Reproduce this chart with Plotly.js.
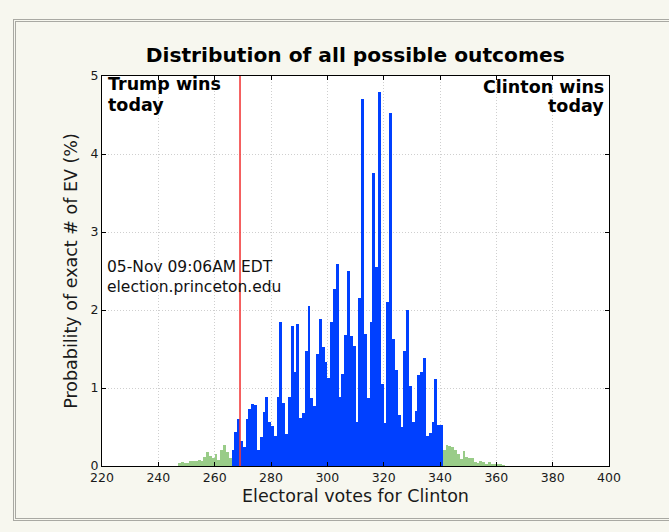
<!DOCTYPE html>
<html>
<head>
<meta charset="utf-8">
<script src="https://cdn.plot.ly/plotly-3.0.1.min.js"></script>
<style>
  html, body { margin:0; padding:0; background:#f7f7ef; width:669px; height:532px; overflow:hidden; }
  #frame { position:absolute; left:13px; top:19px; width:680px; height:496px; border:3px double #a9a9a3; background:#f7f7ef; }
  #chart { position:absolute; left:0; top:0; width:669px; height:532px; }
</style>
</head>
<body>
<div id="frame"></div>
<div id="chart"></div>
<script>
// Electoral votes (bar k spans k..k+1); probabilities in %
const leftTailStartEV = 220;   // green, 220..265
const leftTail = [
  0.005,0.005,0.005,0.005,0.005,0.005,0.005,0.005,0.005,0.005,
  0.005,0.005,0.005,0.005,0.005,0.005,0.005,0.005,0.005,0.005,
  0.005,0.005,0.005,0.005,0.005,0.005,0.005,
  0.043,0.055,0.035,0.040,0.065,0.070,0.065,0.075,0.065,0.120,
  0.180,0.130,0.100,0.150,0.075,0.200,0.270,0.175,0.100
];
const coreStartEV = 266;       // blue, 266..340
const core = [
  0.20,0.43,0.60,0.32,0.25,0.60,0.73,0.79,0.78,0.20,
  0.37,0.69,0.88,0.56,0.51,0.38,0.88,1.84,0.81,0.41,
  0.88,1.80,1.20,1.82,0.62,0.68,1.48,2.05,0.87,0.77,
  1.44,1.88,1.52,1.33,1.13,1.85,2.27,2.59,0.88,1.18,
  1.68,2.50,1.67,1.54,0.56,2.15,4.70,1.69,0.87,1.84,
  3.76,2.55,4.80,1.05,0.55,2.10,4.52,1.63,1.23,0.65,
  0.50,1.48,2.00,1.03,0.56,0.71,1.17,1.21,1.38,0.38,
  0.42,0.56,1.11,0.52,0.53
];
const rightTailStartEV = 341;  // green, 341..399
const rightTail = [
  0.20,0.27,0.26,0.24,0.20,0.15,0.09,0.19,0.11,0.10,
  0.10,0.055,0.035,0.07,0.05,0.025,0.05,0.025,0.02,0.02,
  0.02,0.015,
  0.005,0.005,0.005,0.005,0.005,0.005,0.005,0.005,0.005,0.005,
  0.005,0.005,0.005,0.005,0.005,0.005,0.005,0.005,0.005,0.005,
  0.005,0.005,0.005,0.005,0.005,0.005,0.005,0.005,0.005,0.005,
  0.005,0.005,0.005,0.005,0.005,0.005,0.005
];
const winThresholdEV = 269;
const xTicks = [220,240,260,280,300,320,340,360,380,400];
const yTicks = [0,1,2,3,4,5];
const titleText = 'Distribution of all possible outcomes';
const xLabel = 'Electoral votes for Clinton';
const yLabel = 'Probability of exact # of EV (%)';

function evs(start, arr){ return arr.map((_, i) => start + i); }

const blue = '#0040ff', green = '#99cc88';
const barBase = {type:'bar', width:1, offset:0, hoverinfo:'x+y'};
const traces = [
  Object.assign({}, barBase, {x: evs(leftTailStartEV, leftTail), y: leftTail, marker:{color:green, line:{width:0}}}),
  Object.assign({}, barBase, {x: evs(coreStartEV, core), y: core, marker:{color:blue, line:{width:0}}}),
  Object.assign({}, barBase, {x: evs(rightTailStartEV, rightTail), y: rightTail, marker:{color:green, line:{width:0}}})
];

const FONT = 'DejaVu Sans, sans-serif';
const axisCommon = {
  showline:true, linecolor:'#000', linewidth:1, mirror:'ticks',
  ticks:'inside', ticklen:4, tickwidth:1, tickcolor:'#000',
  showgrid:true, gridcolor:'#cfcfcf', gridwidth:1, griddash:'1px,2px',
  zeroline:false, layer:'above traces',
  tickfont:{family:FONT, size:12.5, color:'#1a1a1a'}
};

const layout = {
  width:669, height:532,
  margin:{l:102, r:60, t:76, b:66},
  paper_bgcolor:'rgba(0,0,0,0)', plot_bgcolor:'#ffffff',
  showlegend:false, bargap:0,
  title:{text:'<b>'+titleText+'</b>', font:{family:FONT, size:20.2, color:'#000'},
         x:0.531, xanchor:'center', y:1-55/532, yanchor:'middle'},
  xaxis: Object.assign({}, axisCommon, {range:[220,400], tickvals:xTicks, ticktext:xTicks.map(String),
         title:{text:xLabel, font:{family:FONT, size:17.5, color:'#1a1a1a'}, standoff:5}}),
  yaxis: Object.assign({}, axisCommon, {range:[0,5], tickvals:yTicks, ticktext:yTicks.map(String),
         title:{text:yLabel, font:{family:FONT, size:17.5, color:'#1a1a1a'}, standoff:8}}),
  shapes:[{type:'line', xref:'x', yref:'paper', x0:winThresholdEV, x1:winThresholdEV, y0:0, y1:1,
           line:{color:'#f23a3a', width:1.6}}],
  annotations:[
    {text:'<b>Trump wins</b>', xref:'paper', yref:'paper', x:0.008, y:(466-84)/390, xanchor:'left', yanchor:'middle', showarrow:false, font:{family:FONT, size:17.5, color:'#000'}},
    {text:'<b>today</b>', xref:'paper', yref:'paper', x:0.008, y:(466-105)/390, xanchor:'left', yanchor:'middle', showarrow:false, font:{family:FONT, size:17.5, color:'#000'}},
    {text:'<b>Clinton wins</b>', xref:'paper', yref:'paper', x:0.994, y:(466-87)/390, xanchor:'right', yanchor:'middle', showarrow:false, font:{family:FONT, size:17.5, color:'#000'}},
    {text:'<b>today</b>', xref:'paper', yref:'paper', x:0.994, y:(466-106)/390, xanchor:'right', yanchor:'middle', showarrow:false, font:{family:FONT, size:17.5, color:'#000'}},
    {text:'05-Nov 09:06AM EDT', xref:'paper', yref:'paper', x:0.006, y:(466-267)/390, xanchor:'left', yanchor:'middle', showarrow:false, font:{family:FONT, size:15.5, color:'#111'}},
    {text:'election.princeton.edu', xref:'paper', yref:'paper', x:0.006, y:(466-287)/390, xanchor:'left', yanchor:'middle', showarrow:false, font:{family:FONT, size:15.5, color:'#111'}}
  ]
};

Plotly.newPlot('chart', traces, layout, {displayModeBar:false, staticPlot:true});
</script>
</body>
</html>
